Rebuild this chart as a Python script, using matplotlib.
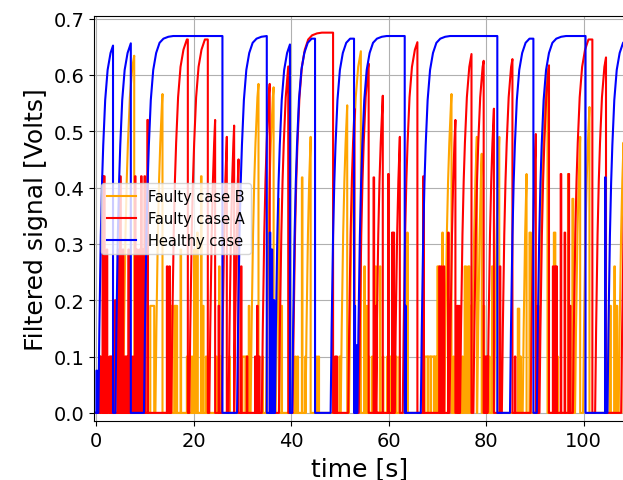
import numpy as np
import matplotlib
matplotlib.use("Agg")
import matplotlib.pyplot as plt

# rise of the filtered signal after a step (seconds, fraction of plateau)
RISE_T = [0, 0.1, 0.2, 0.35, 0.5, 0.75, 1.0, 1.4, 1.9, 2.5, 3.2, 4.0, 5.0, 6.0]
RISE_F = [0, 0.12, 0.22, 0.35, 0.47, 0.61, 0.71, 0.83, 0.91, 0.955, 0.982, 0.993, 0.998, 1.0]

# healthy case
blue_plateau = 0.669
blue_holds = [(9.8, 25.9), (28.9, 35.0), (40.2, 44.9), (48.1, 52.9), (53.6, 63.3),
              (66.6, 82.3), (84.9, 89.7), (90.4, 100.4), (104.9, 110.0)]
blue_ramps = [(3.45, 0.652), (7.1, 0.656), (39.75, 0.654)]
blue_spikes = [(0.05, 0.075), (35.6, 0.32), (36.0, 0.29), (36.4, 0.2), (53.0, 0.19),
               (53.3, 0.12), (63.4, 0.19), (104.4, 0.418)]

# faulty case A
red_plateau = 0.675
red_holds = [(15.4, 18.8), (19.1, 22.9), (40.3, 48.6), (97.8, 101.8)]
red_ramps = [(24.4, 0.52), (26.8, 0.49), (28.3, 0.51), (29.2, 0.45), (35.6, 0.584),
             (39.4, 0.615), (53.0, 0.54), (55.9, 0.62), (58.8, 0.563), (62.3, 0.49),
             (65.9, 0.658), (73.7, 0.52), (77.0, 0.637), (79.5, 0.625), (81.6, 0.54),
             (85.4, 0.628), (90.2, 0.495), (92.9, 0.617), (104.6, 0.631), (108.6, 0.45)]
red_spikes = [(0.8, 0.1), (1.3, 0.42), (1.6, 0.42), (1.9, 0.1), (2.15, 0.29), (2.7, 0.1),
              (3.0, 0.1), (3.3, 0.1), (3.85, 0.2), (4.45, 0.29), (4.9, 0.42), (5.1, 0.1),
              (5.45, 0.29), (5.9, 0.1), (6.2, 0.1), (6.6, 0.29), (6.9, 0.1), (7.05, 0.1),
              (7.5, 0.1), (7.95, 0.42), (8.3, 0.29), (8.85, 0.29), (9.2, 0.42), (9.55, 0.29),
              (9.9, 0.42), (10.5, 0.52), (14.5, 0.26), (15.0, 0.26), (25.1, 0.19), (29.7, 0.26),
              (30.9, 0.1), (32.6, 0.1), (33.0, 0.19), (33.4, 0.1), (36.4, 0.1), (49.0, 0.1),
              (49.3, 0.1), (56.9, 0.418), (57.4, 0.19), (59.9, 0.424), (60.7, 0.32), (61.0, 0.32),
              (67.1, 0.42), (70.4, 0.26), (70.8, 0.26), (71.3, 0.26), (72.2, 0.32), (74.1, 0.19),
              (74.4, 0.19), (79.8, 0.1), (80.1, 0.1), (82.8, 0.26), (85.9, 0.1), (90.6, 0.19),
              (93.7, 0.26), (94.1, 0.26), (94.4, 0.26), (95.3, 0.424), (96.1, 0.32), (96.9, 0.424),
              (97.2, 0.19)]

# faulty case B
orange_plateau = 0.675
orange_holds = []
orange_ramps = [(7.8, 0.634), (13.6, 0.566), (33.3, 0.584), (36.4, 0.578), (37.5, 0.38),
                (44.0, 0.49), (51.5, 0.546), (54.3, 0.642), (72.9, 0.566), (78.1, 0.49),
                (79.1, 0.46), (82.7, 0.49), (88.3, 0.424), (92.6, 0.61), (99.3, 0.49),
                (101.2, 0.543), (108.2, 0.48)]
orange_spikes = [(0.6, 0.1), (0.8, 0.1), (1.8, 0.1), (4.4, 0.1), (4.6, 0.1), (5.2, 0.1),
                 (11.1, 0.19, 0.8), (15.3, 0.19, 0.2), (16.0, 0.19, 0.3), (16.4, 0.19, 0.2),
                 (17.3, 0.29), (18.6, 0.1), (19.0, 0.1), (19.6, 0.1), (20.1, 0.29), (20.7, 0.32),
                 (21.5, 0.42), (21.9, 0.19), (22.5, 0.1), (24.6, 0.1), (25.2, 0.26), (25.5, 0.1),
                 (27.3, 0.1), (30.0, 0.1, 0.6), (30.8, 0.1, 0.4), (31.3, 0.19), (34.1, 0.1),
                 (38.0, 0.19), (40.8, 0.1), (41.3, 0.1), (42.2, 0.418), (42.9, 0.1), (45.2, 0.1),
                 (45.6, 0.1), (49.9, 0.1), (55.0, 0.26), (55.5, 0.19), (55.9, 0.1), (56.6, 0.1),
                 (57.3, 0.26), (58.2, 0.26), (58.8, 0.1), (59.7, 0.1), (60.3, 0.1), (61.0, 0.1),
                 (61.5, 0.1), (62.2, 0.1), (63.8, 0.32), (67.4, 0.1, 0.6), (68.1, 0.1, 0.5),
                 (68.7, 0.1, 0.6), (69.4, 0.1, 0.4), (70.0, 0.26, 0.3), (71.0, 0.32), (73.3, 0.1),
                 (75.1, 0.1), (75.6, 0.26, 0.3), (76.3, 0.26, 0.3), (76.8, 0.19), (79.5, 0.19),
                 (80.2, 0.1), (80.6, 0.1), (81.2, 0.26, 0.3), (86.5, 0.185, 0.3), (87.0, 0.1),
                 (88.9, 0.32, 0.3), (90.3, 0.1), (93.9, 0.32, 0.3), (94.6, 0.1), (96.8, 0.424, 0.2),
                 (97.7, 0.38, 0.2), (105.3, 0.19, 0.3), (106.3, 0.26), (106.6, 0.19, 0.3)]


def build(holds, ramps, spikes, plateau):
    rt = np.array(RISE_T)
    rf = np.array(RISE_F)
    pieces = []
    for t0, t1 in holds:
        m = t0 + rt < t1
        ts = list(t0 + rt[m]) + [t1, t1]
        vs = list(plateau * rf[m]) + [plateau * rf[m][-1], 0.0]
        pieces.append((t0, ts, vs))
    for tp, peak in ramps:
        rise = np.interp(peak / plateau, rf, rt)
        m = rt < rise
        ts = list(tp - rise + rt[m]) + [tp, tp]
        vs = list(plateau * rf[m]) + [peak, 0.0]
        pieces.append((tp - rise, ts, vs))
    for s in spikes:
        t, peak = s[0], s[1]
        w = s[2] if len(s) > 2 else 0.12
        pieces.append((t, [t, t, t + w, t + w], [0.0, peak, peak, 0.0]))
    pieces.sort(key=lambda p: p[0])
    x, y = [0.0], [0.0]
    for _, ts, vs in pieces:
        x += ts
        y += vs
    x.append(110.0)
    y.append(0.0)
    return np.array(x), np.array(y)


fig = plt.figure(figsize=(6.23, 4.81), dpi=100)
ax = fig.add_axes([0.1509, 0.122, 0.8539, 0.8432])

xo, yo = build(orange_holds, orange_ramps, orange_spikes, orange_plateau)
xr, yr = build(red_holds, red_ramps, red_spikes, red_plateau)
xb, yb = build(blue_holds, blue_ramps, blue_spikes, blue_plateau)

ax.plot(xo, yo, color='orange', lw=1.5, label='Faulty case B')
ax.plot(xr, yr, color='red', lw=1.5, label='Faulty case A')
ax.plot(xb, yb, color='blue', lw=1.5, label='Healthy case')

ax.set_xlim(-0.45, 108.7)
ax.set_ylim(-0.015, 0.705)
ax.set_xticks([0, 20, 40, 60, 80, 100])
ax.set_yticks(np.arange(0, 0.71, 0.1))
ax.tick_params(labelsize=14)
ax.grid(True)
ax.set_xlabel('time [s]', fontsize=18)
ax.set_ylabel('Filtered signal [Volts]', fontsize=18)
ax.legend(loc='center left', fontsize=10.5)

fig.savefig('out.png', dpi=100)
